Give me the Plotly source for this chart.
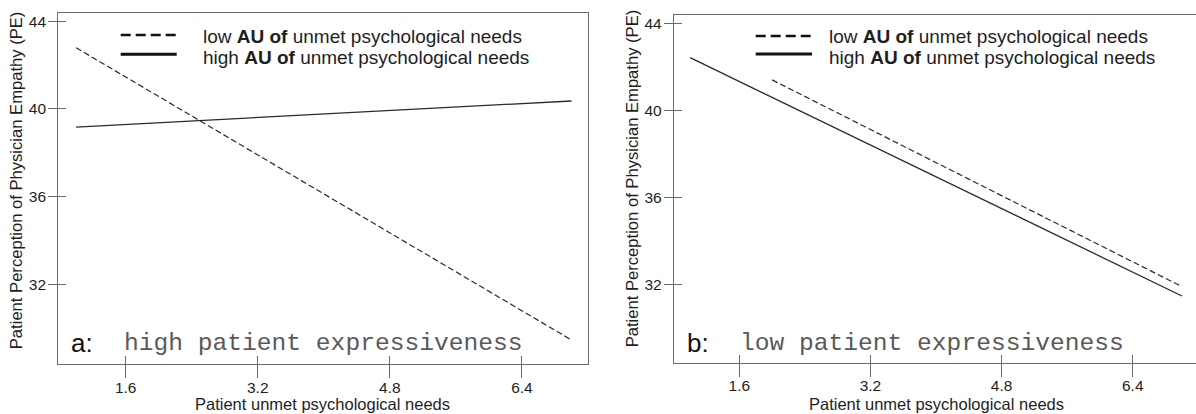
import plotly.graph_objects as go

W, H = 1196, 414

# ---- data ----
x_ticks = [1.6, 3.2, 4.8, 6.4]
x_tick_labels = ["1.6", "3.2", "4.8", "6.4"]
y_ticks = [32, 36, 40, 44]
y_tick_labels = ["32", "36", "40", "44"]

a_low_x = [1.0, 7.0]
a_low_y = [42.79, 29.45]
a_high_x = [1.0, 7.0]
a_high_y = [39.17, 40.36]

b_low_x = [2.0, 7.0]
b_low_y = [41.40, 31.92]
b_high_x = [1.0, 7.0]
b_high_y = [42.42, 31.49]

legend_low = "low <b>AU of</b> unmet psychological needs"
legend_high = "high <b>AU of</b> unmet psychological needs"
x_title = "Patient unmet psychological needs"
y_title = "Patient Perception of Physician Empathy (PE)"
panel_a = ("a:", "high patient expressiveness")
panel_b = ("b:", "low patient expressiveness")

# ---- helpers for paper coordinates (layout only) ----
def px(x):
    return x / W

def py(y):
    return 1 - y / H

FRAME = "#6a6a6a"
LINE = "#2a2a2a"
TXT = "#1e1e1e"
SANS = "Arial, Liberation Sans, sans-serif"
MONO = "Courier New, Liberation Mono, monospace"

fig = go.Figure()

# panel a
fig.add_trace(go.Scatter(x=a_low_x, y=a_low_y, mode="lines", xaxis="x", yaxis="y",
                         line=dict(color=LINE, width=1.2, dash="6px,3px"),
                         showlegend=False, hoverinfo="skip"))
fig.add_trace(go.Scatter(x=a_high_x, y=a_high_y, mode="lines", xaxis="x3", yaxis="y3",
                         line=dict(color=LINE, width=1.3),
                         showlegend=False, hoverinfo="skip"))
# panel b
fig.add_trace(go.Scatter(x=b_low_x, y=b_low_y, mode="lines", xaxis="x2", yaxis="y2",
                         line=dict(color=LINE, width=1.2, dash="6px,3px"),
                         showlegend=False, hoverinfo="skip"))
fig.add_trace(go.Scatter(x=b_high_x, y=b_high_y, mode="lines", xaxis="x4", yaxis="y4",
                         line=dict(color=LINE, width=1.3),
                         showlegend=False, hoverinfo="skip"))

# domains / ranges
A_XD = [px(58.3), px(588.3)]
A_YD = [py(364.3), py(12.7)]
B_XD = [px(674.0), 1.0]
B_YD = [py(362.7), py(14.7)]
A_XR = [0.784, 7.204]
A_YR = [28.34, 44.39]
B_XR = [0.803, 7.172]
B_YR = [28.43, 44.39]

tickfont = dict(family=SANS, size=15.5, color=TXT)

def main_x(domain, rng, anchor):
    return dict(domain=domain, range=rng, anchor=anchor, tickmode="array",
                tickvals=x_ticks, ticktext=x_tick_labels, ticks="outside", ticklen=13,
                tickwidth=1.2, tickcolor=FRAME, showline=True, linecolor=FRAME,
                linewidth=1.3, mirror=True, showgrid=False, zeroline=False,
                tickfont=tickfont, ticklabelstandoff=-4)

def main_y(domain, rng, anchor):
    return dict(domain=domain, range=rng, anchor=anchor, tickmode="array",
                tickvals=y_ticks, ticktext=y_tick_labels, ticks="outside", ticklen=9,
                tickwidth=1.2, tickcolor=FRAME, showline=True, linecolor=FRAME,
                linewidth=1.3, mirror=True, showgrid=False, zeroline=False,
                tickfont=tickfont, ticklabelstandoff=-1)

def over_x(domain, rng, over, anchor):
    return dict(domain=domain, range=rng, overlaying=over, anchor=anchor,
                tickmode="array", tickvals=x_ticks, ticks="inside", ticklen=8,
                tickwidth=1.2, tickcolor=FRAME, showticklabels=False, showline=False,
                showgrid=False, zeroline=False)

def over_y(domain, rng, over, anchor):
    return dict(domain=domain, range=rng, overlaying=over, anchor=anchor,
                tickmode="array", tickvals=y_ticks, ticks="inside", ticklen=8,
                tickwidth=1.2, tickcolor=FRAME, showticklabels=False, showline=False,
                showgrid=False, zeroline=False)

annotations = []
shapes = []

# axis titles
for xc, yc in [(17.2, 180), (632.3, 178)]:
    annotations.append(dict(text=y_title, x=px(xc), y=py(yc), xref="paper", yref="paper",
                            textangle=-90, showarrow=False, xanchor="center", yanchor="middle",
                            font=dict(family=SANS, size=16.6, color=TXT)))
for xc in [322.0, 936.0]:
    annotations.append(dict(text=x_title, x=px(xc), y=py(403.5), xref="paper", yref="paper",
                            showarrow=False, xanchor="center", yanchor="middle",
                            font=dict(family=SANS, size=16.5, color=TXT)))

# legends (sample strokes + texts)
for (x0, x1, yd, ys, xt) in [(120.7, 176.7, 35.0, 54.3, 200.7),
                              (755.7, 812.0, 36.0, 54.0, 826.7)]:
    shapes.append(dict(type="line", xref="paper", yref="paper", x0=px(x0), x1=px(x1),
                       y0=py(yd), y1=py(yd), line=dict(color="#111", width=2.6, dash="10px,5px")))
    shapes.append(dict(type="line", xref="paper", yref="paper", x0=px(x0), x1=px(x1),
                       y0=py(ys), y1=py(ys), line=dict(color="#111", width=3)))
    annotations.append(dict(text=legend_low, x=px(xt), y=py(37.0), xref="paper", yref="paper",
                            showarrow=False, xanchor="left", yanchor="middle",
                            font=dict(family=SANS, size=19, color=TXT)))
    annotations.append(dict(text=legend_high, x=px(xt), y=py(57.5), xref="paper", yref="paper",
                            showarrow=False, xanchor="left", yanchor="middle",
                            font=dict(family=SANS, size=19, color=TXT)))

# panel labels
for (lab, txt, xl, xt) in [(panel_a[0], panel_a[1], 68.5, 121.5),
                           (panel_b[0], panel_b[1], 685.0, 738.5)]:
    annotations.append(dict(text=lab, x=px(xl), y=py(343), xref="paper", yref="paper",
                            showarrow=False, xanchor="left", yanchor="middle",
                            font=dict(family=SANS, size=26, color="#111")))
    annotations.append(dict(text=txt, x=px(xt), y=py(343), xref="paper", yref="paper",
                            showarrow=False, xanchor="left", yanchor="middle",
                            font=dict(family=MONO, size=24.6, color="#5a5a5a")))

fig.update_layout(
    width=W, height=H,
    margin=dict(l=0, r=0, t=0, b=0),
    paper_bgcolor="white", plot_bgcolor="white",
    showlegend=False,
    xaxis=main_x(A_XD, A_XR, "y"),
    yaxis=main_y(A_YD, A_YR, "x"),
    xaxis2=main_x(B_XD, B_XR, "y2"),
    yaxis2=main_y(B_YD, B_YR, "x2"),
    xaxis3=over_x(A_XD, A_XR, "x", "y3"),
    yaxis3=over_y(A_YD, A_YR, "y", "x3"),
    xaxis4=over_x(B_XD, B_XR, "x2", "y4"),
    yaxis4=over_y(B_YD, B_YR, "y2", "x4"),
    annotations=annotations,
    shapes=shapes,
)

fig.write_html("out.html")
